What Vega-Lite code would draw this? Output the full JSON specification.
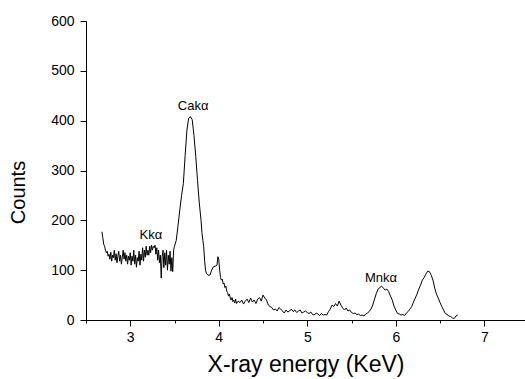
{
  "$schema": "https://vega.github.io/schema/vega-lite/v6.json",
  "autosize": {"type": "none"},
  "padding": {"left": 86, "top": 21, "right": 0, "bottom": 59},
  "width": 439,
  "height": 299,
  "background": "white",
  "config": {
    "view": {"stroke": null},
    "font": "Liberation Sans",
    "axis": {"grid": false, "domainColor": "black", "tickColor": "black", "labelColor": "black", "titleColor": "black", "labelFont": "Liberation Sans", "titleFont": "Liberation Sans", "titleFontWeight": "normal"}
  },
  "datasets": {
    "spec": [
      {"e":2.68,"c":177},{"e":2.69,"c":165},{"e":2.70,"c":152},{"e":2.71,"c":148},{"e":2.72,"c":140},{"e":2.73,"c":135},{"e":2.74,"c":138},{"e":2.75,"c":128},{"e":2.76,"c":132},{"e":2.77,"c":122},{"e":2.78,"c":136},{"e":2.79,"c":118},{"e":2.80,"c":130},{"e":2.81,"c":125},{"e":2.82,"c":140},{"e":2.83,"c":120},{"e":2.84,"c":133},{"e":2.85,"c":115},{"e":2.86,"c":128},{"e":2.87,"c":138},{"e":2.88,"c":118},{"e":2.89,"c":130},{"e":2.90,"c":112},{"e":2.91,"c":126},{"e":2.92,"c":140},{"e":2.93,"c":122},{"e":2.94,"c":135},{"e":2.95,"c":118},{"e":2.96,"c":130},{"e":2.97,"c":112},{"e":2.98,"c":128},{"e":2.99,"c":120},{"e":3.00,"c":135},{"e":3.01,"c":110},{"e":3.02,"c":128},{"e":3.03,"c":118},{"e":3.04,"c":140},{"e":3.05,"c":112},{"e":3.06,"c":130},{"e":3.07,"c":106},{"e":3.08,"c":125},{"e":3.09,"c":118},{"e":3.10,"c":138},{"e":3.11,"c":110},{"e":3.12,"c":132},{"e":3.13,"c":120},{"e":3.14,"c":145},{"e":3.15,"c":118},{"e":3.16,"c":140},{"e":3.17,"c":126},{"e":3.18,"c":148},{"e":3.19,"c":130},
      {"e":3.20,"c":140},{"e":3.21,"c":130},{"e":3.22,"c":148},{"e":3.23,"c":135},{"e":3.24,"c":150},{"e":3.25,"c":140},{"e":3.26,"c":148},{"e":3.27,"c":145},{"e":3.28,"c":150},{"e":3.29,"c":132},{"e":3.30,"c":145},{"e":3.31,"c":120},{"e":3.32,"c":140},{"e":3.33,"c":115},{"e":3.34,"c":130},{"e":3.35,"c":84},{"e":3.36,"c":128},{"e":3.37,"c":140},{"e":3.38,"c":105},{"e":3.39,"c":135},{"e":3.40,"c":110},{"e":3.41,"c":140},{"e":3.42,"c":100},{"e":3.43,"c":130},{"e":3.44,"c":112},{"e":3.45,"c":138},{"e":3.46,"c":98},{"e":3.47,"c":125},{"e":3.48,"c":97},{"e":3.49,"c":140},{"e":3.50,"c":148},{"e":3.52,"c":160},{"e":3.54,"c":190},{"e":3.56,"c":221},{"e":3.58,"c":250},{"e":3.60,"c":274},{"e":3.62,"c":330},{"e":3.64,"c":381},{"e":3.66,"c":405},{"e":3.68,"c":408},{"e":3.70,"c":402},{"e":3.72,"c":370},{"e":3.74,"c":328},{"e":3.76,"c":280},{"e":3.78,"c":235},{"e":3.80,"c":200},{"e":3.81,"c":175},{"e":3.82,"c":160},{"e":3.83,"c":147},{"e":3.84,"c":120},{"e":3.85,"c":100},{"e":3.86,"c":94},{"e":3.88,"c":90},{"e":3.90,"c":90},{"e":3.92,"c":100},{"e":3.94,"c":107},{"e":3.96,"c":108},{"e":3.98,"c":110},{"e":3.99,"c":127},{"e":4.00,"c":122},{"e":4.01,"c":100},{"e":4.02,"c":85},{"e":4.03,"c":80},{"e":4.04,"c":82},{"e":4.05,"c":72},{"e":4.06,"c":74},{"e":4.07,"c":65},{"e":4.08,"c":68},{"e":4.09,"c":58},{"e":4.10,"c":55},{"e":4.11,"c":48},{"e":4.12,"c":52},{"e":4.13,"c":44},{"e":4.14,"c":40},{"e":4.15,"c":45},{"e":4.16,"c":37},{"e":4.17,"c":40},{"e":4.18,"c":34},{"e":4.19,"c":42},{"e":4.20,"c":33},{"e":4.22,"c":38},{"e":4.24,"c":35},{"e":4.26,"c":40},{"e":4.28,"c":32},{"e":4.30,"c":38},{"e":4.32,"c":42},{"e":4.34,"c":35},{"e":4.36,"c":44},{"e":4.38,"c":36},{"e":4.40,"c":40},{"e":4.42,"c":33},{"e":4.44,"c":42},{"e":4.46,"c":45},{"e":4.48,"c":38},{"e":4.50,"c":50},{"e":4.52,"c":44},{"e":4.54,"c":40},{"e":4.56,"c":30},{"e":4.58,"c":27},{"e":4.60,"c":25},{"e":4.62,"c":20},{"e":4.64,"c":22},{"e":4.66,"c":18},{"e":4.68,"c":25},{"e":4.70,"c":22},{"e":4.72,"c":18},{"e":4.74,"c":14},{"e":4.76,"c":20},{"e":4.78,"c":16},{"e":4.80,"c":18},{"e":4.82,"c":22},{"e":4.84,"c":17},{"e":4.86,"c":20},{"e":4.88,"c":15},{"e":4.90,"c":18},{"e":4.92,"c":20},{"e":4.94,"c":14},{"e":4.96,"c":16},{"e":4.98,"c":18},{"e":5.00,"c":15},{"e":5.02,"c":13},{"e":5.04,"c":16},{"e":5.06,"c":11},{"e":5.08,"c":10},{"e":5.10,"c":14},{"e":5.12,"c":12},{"e":5.14,"c":9},{"e":5.16,"c":13},{"e":5.18,"c":10},{"e":5.20,"c":11},{"e":5.22,"c":10},{"e":5.24,"c":17},{"e":5.26,"c":22},{"e":5.28,"c":30},{"e":5.30,"c":27},{"e":5.32,"c":33},{"e":5.34,"c":28},{"e":5.36,"c":38},{"e":5.38,"c":30},{"e":5.40,"c":24},{"e":5.42,"c":20},{"e":5.44,"c":24},{"e":5.46,"c":18},{"e":5.48,"c":20},{"e":5.50,"c":15},{"e":5.52,"c":13},{"e":5.54,"c":14},{"e":5.56,"c":11},{"e":5.58,"c":12},{"e":5.60,"c":9},{"e":5.62,"c":10},{"e":5.64,"c":8},{"e":5.66,"c":12},{"e":5.68,"c":14},{"e":5.70,"c":17},{"e":5.72,"c":22},{"e":5.74,"c":30},{"e":5.76,"c":42},{"e":5.78,"c":53},{"e":5.80,"c":62},{"e":5.82,"c":65},{"e":5.84,"c":68},{"e":5.86,"c":64},{"e":5.88,"c":60},{"e":5.90,"c":62},{"e":5.92,"c":57},{"e":5.94,"c":48},{"e":5.96,"c":40},{"e":5.98,"c":28},{"e":6.00,"c":20},{"e":6.02,"c":13},{"e":6.04,"c":12},{"e":6.06,"c":10},{"e":6.08,"c":11},{"e":6.10,"c":9},{"e":6.12,"c":14},{"e":6.14,"c":17},{"e":6.16,"c":22},{"e":6.18,"c":27},{"e":6.20,"c":36},{"e":6.22,"c":44},{"e":6.24,"c":52},{"e":6.26,"c":62},{"e":6.28,"c":70},{"e":6.30,"c":80},{"e":6.32,"c":85},{"e":6.34,"c":92},{"e":6.36,"c":98},{"e":6.38,"c":97},{"e":6.40,"c":90},{"e":6.42,"c":80},{"e":6.44,"c":64},{"e":6.46,"c":52},{"e":6.48,"c":44},{"e":6.50,"c":35},{"e":6.52,"c":27},{"e":6.54,"c":20},{"e":6.56,"c":13},{"e":6.58,"c":11},{"e":6.60,"c":8},{"e":6.62,"c":7},{"e":6.64,"c":4},{"e":6.66,"c":3},{"e":6.68,"c":8},{"e":6.70,"c":10}
    ],
    "labels": [
      {"e":3.71,"c":429,"t":"Cakα"},
      {"e":3.234,"c":170,"t":"Kkα"},
      {"e":5.833,"c":84,"t":"Mnkα"}
    ]
  },
  "layer": [
    {
      "data": {"name": "spec"},
      "mark": {"type": "line", "color": "black", "strokeWidth": 1, "clip": true},
      "encoding": {
        "x": {"field": "e", "type": "quantitative", "scale": {"domain": [2.5, 7.46], "nice": false, "zero": false},
          "axis": {"orient": "bottom", "values": [2.5, 3, 3.5, 4, 4.5, 5, 5.5, 6, 6.5, 7], "labelExpr": "datum.value % 1 === 0 ? format(datum.value, 'd') : ''", "tickSize": {"condition": {"test": "datum.value % 1 !== 0", "value": 3}, "value": 6}, "labelFontSize": 14, "labelPadding": 4, "title": "X-ray energy (KeV)", "titleFontSize": 23, "titlePadding": 9, "labelFlush": false}},
        "y": {"field": "c", "type": "quantitative", "scale": {"domain": [0, 600], "nice": false},
          "axis": {"orient": "left", "values": [0, 50, 100, 150, 200, 250, 300, 350, 400, 450, 500, 550, 600], "labelExpr": "datum.value % 100 === 0 ? format(datum.value, 'd') : ''", "tickSize": {"condition": {"test": "datum.value % 100 !== 0", "value": 3}, "value": 6}, "labelFontSize": 14, "labelPadding": 6, "title": "Counts", "titleFontSize": 20, "titleX": -68, "titleY": 171, "titleBaseline": "middle", "titleAngle": -90, "labelFlush": false}}
      }
    },
    {
      "data": {"name": "labels"},
      "mark": {"type": "text", "fontSize": 13, "color": "black", "font": "Liberation Sans"},
      "encoding": {
        "x": {"field": "e", "type": "quantitative"},
        "y": {"field": "c", "type": "quantitative"},
        "text": {"field": "t"}
      }
    }
  ]
}
